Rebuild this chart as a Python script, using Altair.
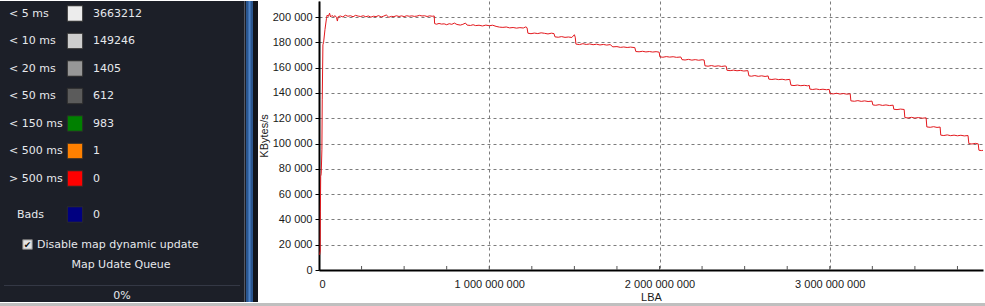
import altair as alt
import pandas as pd

# ---------------- data ----------------
labels = ["< 5 ms", "< 10 ms", "< 20 ms", "< 50 ms", "< 150 ms", "< 500 ms", "> 500 ms"]
counts = [3663212, 149246, 1405, 612, 983, 1, 0]
swatch_colors = ["#ececec", "#cdcdcd", "#979797", "#5b5b5b", "#008000", "#ff8000", "#ff0000"]
bads_label = ["Bads"]
bads_count = [0]
bads_color = "#000080"
panel_texts = ["Disable map dynamic update", "Map Udate Queue", "0%"]

lba_m = [4, 7, 8, 10, 13, 17, 19, 23, 27, 35, 44, 48, 55, 62, 68, 76, 85, 95, 103, 108, 113,
         125, 140, 155, 170, 185, 200, 215, 230, 245, 260, 275, 290, 305, 320, 335, 350, 365,
         380, 395, 410, 425, 440, 455, 470, 485, 500, 515, 530, 545, 560, 575, 590, 605, 620,
         635, 650, 665, 677, 679, 690, 705, 720, 735, 750, 765, 780, 795, 810, 830, 845, 860,
         870, 890, 905, 920, 940, 960, 980, 1000, 1020, 1040, 1060, 1080, 1100, 1120, 1140,
         1160, 1180, 1200, 1215, 1222, 1227, 1245, 1265, 1285, 1305, 1325, 1345, 1365, 1380,
         1386, 1405, 1425, 1445, 1465, 1485, 1500, 1505, 1509, 1530, 1550, 1570, 1590, 1610,
         1630, 1650, 1670, 1690, 1710, 1726, 1750, 1770, 1790, 1810, 1830, 1855, 1861, 1880,
         1900, 1920, 1940, 1960, 1980, 1998, 2002, 2020, 2040, 2060, 2080, 2100, 2125, 2132,
         2150, 2170, 2190, 2210, 2230, 2250, 2262, 2267, 2285, 2305, 2325, 2345, 2365, 2385,
         2392, 2396, 2415, 2435, 2455, 2475, 2495, 2519, 2525, 2540, 2560, 2580, 2600, 2620,
         2638, 2642, 2660, 2680, 2700, 2720, 2740, 2765, 2772, 2790, 2810, 2830, 2850, 2870,
         2880, 2883, 2900, 2920, 2940, 2960, 2980, 2997, 3001, 3020, 3040, 3060, 3080, 3100,
         3120, 3124, 3145, 3165, 3185, 3205, 3225, 3248, 3253, 3270, 3290, 3310, 3330, 3350,
         3372, 3376, 3395, 3415, 3437, 3441, 3460, 3480, 3500, 3520, 3545, 3566, 3570, 3590,
         3610, 3630, 3648, 3652, 3670, 3690, 3710, 3730, 3750, 3770, 3790, 3812, 3817, 3835,
         3855, 3872, 3876, 3890, 3900]
kbps = [12000, 15000, 46000, 74000, 76000, 95000, 135000, 178000, 180000, 190000, 199000,
        201500, 200500, 203000, 200000, 201200, 200300, 201000, 199500, 196800, 200200,
        200800, 200100, 201400, 200600, 201000, 200200, 201300, 200700, 200400, 201000,
        200200, 200800, 199900, 200600, 200300, 201100, 200000, 200700, 201600, 199800,
        200500, 200300, 201000, 200400, 200900, 200300, 201000, 200600, 200900, 200500,
        200700, 201300, 200800, 201000, 200400, 200900, 200600, 200800, 194800, 194300,
        194900, 194400, 194600, 193900, 194700, 194200, 195200, 194100, 193600, 194200,
        195200, 193600, 193300, 193900, 193200, 193500, 192900, 193600, 193100, 193500,
        192600, 192000, 191800, 192100, 191400, 191700, 191200, 191600, 191300, 192200,
        191500, 187200, 186800, 187300, 186900, 187500, 187100, 186600, 187200, 186900,
        184300, 184000, 184500, 183900, 184200, 183800, 186000, 184000, 178600, 178200,
        178900, 178300, 178700, 178100, 178500, 177900, 178300, 177800, 178200, 176400,
        176600, 176000, 176300, 175900, 176200, 175800, 172700, 172500, 172900, 172400,
        172700, 172300, 172600, 172200, 168500, 168200, 168700, 168300, 168600, 168100,
        168400, 166300, 166000, 166500, 165900, 166300, 165800, 166200, 166000, 161400,
        161100, 161600, 161000, 161400, 160900, 161300, 161000, 157900, 157600, 158000,
        157500, 157800, 157300, 157600, 153500, 153200, 153700, 153100, 153500, 153000,
        153400, 150900, 150600, 151000, 150500, 150800, 150300, 150700, 146100, 145800,
        146200, 145700, 146000, 145600, 145900, 143000, 142700, 143100, 142600, 142900,
        142500, 142800, 139500, 139200, 139700, 139100, 139500, 139000, 139300, 133700,
        133400, 133900, 133300, 133700, 133200, 133500, 130500, 130200, 130700, 130100,
        130500, 130000, 130300, 127100, 126800, 127200, 126900, 120500, 120200, 120700,
        120100, 120500, 120000, 120300, 113100, 112800, 113300, 112700, 113000, 106600,
        106300, 106800, 106200, 106600, 106100, 106500, 106000, 106300, 99900, 99600,
        100100, 99700, 94700, 94400, 94600]

y_ticks = [0, 20000, 40000, 60000, 80000, 100000, 120000, 140000, 160000, 180000, 200000]
x_label_ticks = [0, 1_000_000_000, 2_000_000_000, 3_000_000_000]
x_minor_ticks = [250_000_000, 500_000_000, 750_000_000, 1_000_000_000, 1_250_000_000,
                 1_500_000_000, 1_750_000_000, 2_000_000_000, 2_250_000_000, 2_500_000_000,
                 2_750_000_000, 3_000_000_000, 3_250_000_000, 3_500_000_000, 3_750_000_000]

# ---------------- styles ----------------
PANEL_BG = "#1c1f28"
PANEL_TXT = "#e6e8ec"
PFONT = "DejaVu Sans"
AFONT = "Liberation Sans"
GRID = "#7c7c7c"

# ---------------- left panel ----------------
rows = pd.DataFrame({"label": labels, "count": [str(c) for c in counts]})
yrow = alt.Y("label:N", scale=alt.Scale(type="point", domain=labels, range=[12.5, 177.5], padding=0),
             axis=None)
rbase = alt.Chart(rows)
row_lab = rbase.mark_text(align="left", baseline="middle", font=PFONT, fontSize=11,
                          color=PANEL_TXT).encode(x=alt.value(9), y=yrow, text="label:N")
row_sw = rbase.mark_square(size=240, opacity=1, stroke="#2b2b2b", strokeWidth=1).encode(
    x=alt.value(75), y=yrow,
    color=alt.Color("label:N", scale=alt.Scale(domain=labels, range=swatch_colors), legend=None))
row_val = rbase.mark_text(align="left", baseline="middle", font=PFONT, fontSize=11,
                          color=PANEL_TXT).encode(x=alt.value(93), y=yrow, text="count:N")

bads = pd.DataFrame({"label": bads_label, "count": [str(c) for c in bads_count]})
bbase = alt.Chart(bads)
bad_lab = bbase.mark_text(align="left", baseline="middle", font=PFONT, fontSize=11,
                          color=PANEL_TXT).encode(x=alt.value(17), y=alt.value(213.5), text="label:N")
bad_sw = bbase.mark_square(size=240, opacity=1, color=bads_color, stroke="#2b2b2b",
                           strokeWidth=1).encode(x=alt.value(75), y=alt.value(213.5))
bad_val = bbase.mark_text(align="left", baseline="middle", font=PFONT, fontSize=11,
                          color=PANEL_TXT).encode(x=alt.value(93), y=alt.value(213.5), text="count:N")

ptx = pd.DataFrame({"t": panel_texts})
chk_box = alt.Chart(ptx.iloc[[0]]).mark_square(size=90, opacity=1, color="#e4e4e4",
                                               stroke="#7a7a7a", strokeWidth=1).encode(
    x=alt.value(27.5), y=alt.value(243.5))
chk_mark = alt.Chart(ptx.iloc[[0]]).mark_text(font=PFONT, fontSize=9, color="#111111",
                                              baseline="middle", align="center").encode(
    x=alt.value(27.5), y=alt.value(244), text=alt.value("✔"))
t1 = alt.Chart(ptx.iloc[[0]]).mark_text(align="left", baseline="middle", font=PFONT, fontSize=11,
                                        color=PANEL_TXT).encode(x=alt.value(37), y=alt.value(243.5),
                                                                text="t:N")
t2 = alt.Chart(ptx.iloc[[1]]).mark_text(align="center", baseline="middle", font=PFONT, fontSize=11,
                                        color=PANEL_TXT).encode(x=alt.value(121), y=alt.value(263.5),
                                                                text="t:N")
t3 = alt.Chart(ptx.iloc[[2]]).mark_text(align="center", baseline="middle", font=PFONT, fontSize=11,
                                        color=PANEL_TXT).encode(x=alt.value(122), y=alt.value(294.5),
                                                                text="t:N")
deco = alt.Chart(ptx.iloc[[0]])
sep = deco.mark_rule(color="#343845", strokeWidth=1).encode(
    x=alt.value(4), x2=alt.value(240), y=alt.value(284.5))
vline = deco.mark_rule(color="#525764", strokeWidth=1).encode(
    x=alt.value(244.5), y=alt.value(0), y2=alt.value(301))
stripe = deco.mark_rect(color="#2a5690").encode(
    x=alt.value(246), x2=alt.value(253), y=alt.value(0), y2=alt.value(301))
stripe_hi = deco.mark_rule(color="#4d82c6", strokeWidth=2).encode(
    x=alt.value(249.5), y=alt.value(0), y2=alt.value(301))
dark_gap = deco.mark_rect(color="#12151c").encode(
    x=alt.value(253), x2=alt.value(258), y=alt.value(0), y2=alt.value(301))

left = alt.layer(sep, vline, stripe, stripe_hi, dark_gap, row_lab, row_sw, row_val,
                 bad_lab, bad_sw, bad_val, chk_box, chk_mark, t1, t2, t3).properties(
    width=258, height=301, view=alt.ViewBackground(fill=PANEL_BG, strokeWidth=0))

# ---------------- right chart ----------------
df = pd.DataFrame({"lba": [v * 1_000_000 for v in lba_m], "kbps": kbps})
minor = pd.DataFrame({"v": x_minor_ticks})

xs = alt.Scale(domain=[0, 3_900_000_000], nice=False, zero=True)
ys = alt.Scale(domain=[0, 212650], nice=False, zero=True)
lab_expr = "replace(format(datum.value, ','), regexp(',', 'g'), ' ')"

x_axis = alt.Axis(values=x_label_ticks, labelExpr=lab_expr, grid=True, gridDash=[3, 3],
                  gridColor=GRID, gridWidth=1, ticks=False, labelPadding=8,
                  domainColor="#000000", domainWidth=2, labelFont=AFONT, labelFontSize=11,
                  labelColor="#1a1a1a", title="LBA", titleFont=AFONT, titleFontSize=11,
                  titleFontWeight="normal", titleColor="#1a1a1a", titlePadding=2)
y_axis = alt.Axis(values=y_ticks, labelExpr=lab_expr, grid=True, gridDash=[3, 3],
                  gridColor=GRID, gridWidth=1, tickSize=4, tickColor="#000000",
                  labelPadding=3, domainColor="#000000", domainWidth=2, labelFont=AFONT,
                  labelFontSize=11, labelColor="#1a1a1a", title="KBytes/s", titleFont=AFONT,
                  titleFontSize=11, titleFontWeight="normal", titleColor="#1a1a1a",
                  titlePadding=3, minExtent=47, maxExtent=47)

line = alt.Chart(df).mark_line(color="#e3191e", strokeWidth=1).encode(
    x=alt.X("lba:Q", scale=xs, axis=x_axis),
    y=alt.Y("kbps:Q", scale=ys, axis=y_axis),
)
minor_ticks = alt.Chart(minor).mark_rule(color="#555555", strokeWidth=1).encode(
    x=alt.X("v:Q", scale=xs, axis=x_axis),
    y=alt.value(265), y2=alt.value(269),
)
right = alt.layer(minor_ticks, line).properties(width=664, height=269)

# ---------------- bottom bar ----------------
bar = alt.Chart(ptx.iloc[[0]]).mark_rect(color="#bfbfbf").encode(
    x=alt.value(0), x2=alt.value(985), y=alt.value(0), y2=alt.value(5)
).properties(width=985, height=5)

top = alt.hconcat(left, right, spacing=0)
chart = alt.vconcat(top, bar, spacing=0).properties(
    padding=0, background="#ffffff"
).configure_view(strokeWidth=0).configure_concat(spacing=0)

chart.save("out.html", embed_options={"renderer": "svg", "actions": False})
